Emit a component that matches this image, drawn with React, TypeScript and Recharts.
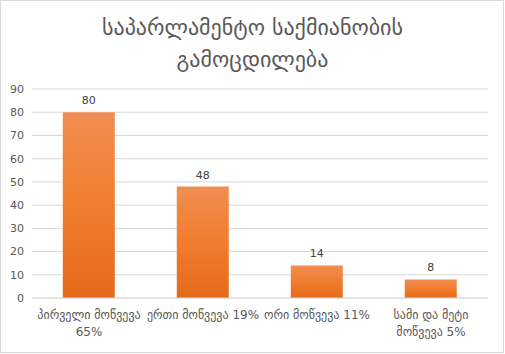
import { BarChart, Bar, XAxis, YAxis, CartesianGrid, LabelList } from 'recharts';

const titleLines = ['საპარლამენტო საქმიანობის', 'გამოცდილება'];
const categories = ['პირველი მოწვევა\n65%', 'ერთი მოწვევა 19%', 'ორი მოწვევა 11%', 'სამი და მეტი\nმოწვევა 5%'];
const values = [80, 48, 14, 8];
const yTicks = [0, 10, 20, 30, 40, 50, 60, 70, 80, 90];

const data = categories.map((name, i) => ({ name, value: values[i] }));

const FONT = '"DejaVu Sans", "Noto Sans", sans-serif';

function CategoryTick({ x, y, payload }: any) {
  const lines = String(payload.value).split('\n');
  return (
    <text x={x} y={y} textAnchor="middle" fill="#595959" fontSize={12} fontFamily={FONT}>
      {lines.map((l, i) => (
        <tspan key={i} x={x} dy={i === 0 ? 13 : 17}>{l}</tspan>
      ))}
    </text>
  );
}

export default function App() {
  return (
    <div style={{ position: 'absolute', left: 0, top: 0, width: 505, height: 354, background: '#fff' }}>
      <div style={{ position: 'absolute', left: 0, top: 0, width: 502, height: 351, border: '1px solid #d9d9d9' }} />
      <div style={{ position: 'absolute', left: 0, top: 12, width: 505, textAlign: 'center', color: '#595959', fontFamily: FONT, fontSize: 22, lineHeight: '32px' }}>
        {titleLines.map((t) => <div key={t}>{t}</div>)}
      </div>
      <div style={{ position: 'absolute', left: 0, top: 0 }}>
        <BarChart width={505} height={354} data={data} margin={{ top: 89, right: 17, left: 0, bottom: 26 }} barCategoryGap="27%">
          <defs>
            <linearGradient id="barGrad" x1="0" y1="0" x2="0" y2="1">
              <stop offset="0%" stopColor="#f08e52" />
              <stop offset="50%" stopColor="#f07d2e" />
              <stop offset="100%" stopColor="#e46a1a" />
            </linearGradient>
          </defs>
          <CartesianGrid vertical={false} stroke="#d9d9d9" />
          <XAxis dataKey="name" height={30} axisLine={{ stroke: '#d9d9d9' }} tickLine={false} interval={0} tick={<CategoryTick />} />
          <YAxis width={32} domain={[0, 90]} ticks={yTicks} axisLine={false} tickLine={false}
            tick={{ fill: '#595959', fontSize: 11, fontFamily: FONT }} />
          <Bar dataKey="value" fill="url(#barGrad)" isAnimationActive={false}>
            <LabelList dataKey="value" position="top" offset={8} fill="#404040" fontSize={11} fontFamily={FONT} />
          </Bar>
        </BarChart>
      </div>
    </div>
  );
}
